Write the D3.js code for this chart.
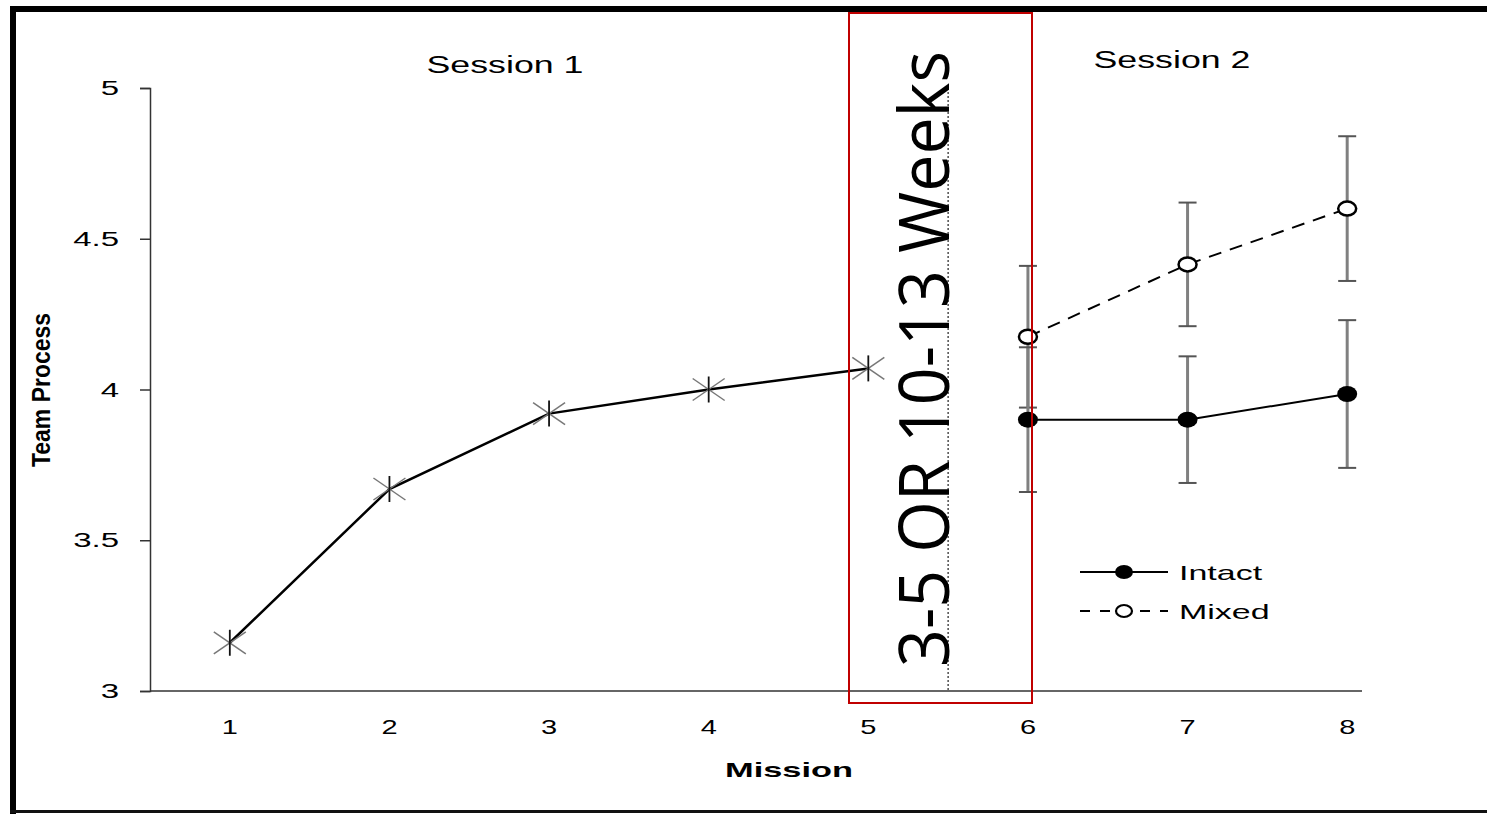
<!DOCTYPE html>
<html>
<head>
<meta charset="utf-8">
<script src="https://cdn.jsdelivr.net/npm/d3@7"></script>
<style>
  body { margin: 0; background: #fff; }
  svg { display: block; }
  text { font-family: "Liberation Sans", Arial, sans-serif; fill: #000; }
  text.gap { font-family: "Open Sans", "Noto Sans", sans-serif; }
</style>
</head>
<body>
<svg width="1487" height="814"></svg>
<script>
// session 1 (before the break)
var session1Missions = [1, 2, 3, 4, 5];
var session1Values = [3.16, 3.67, 3.92, 4.0, 4.07];

// session 2, two team types
var session2Missions = [6, 7, 8];
var intactValues = [3.90, 3.90, 3.985];
var intactErr = [0.24, 0.21, 0.245];
var mixedValues = [4.175, 4.415, 4.60];
var mixedErr = [0.235, 0.205, 0.24];

var xTicks = [1, 2, 3, 4, 5, 6, 7, 8];
var yTicks = [3, 3.5, 4, 4.5, 5];
var gapLabel = "3-5 OR 10-13 Weeks";

const svg = d3.select('svg');

// frame
svg.append('rect').attr('x', 10).attr('y', 6).attr('width', 1490).attr('height', 6).attr('fill', '#000');
svg.append('rect').attr('x', 10).attr('y', 6).attr('width', 6).attr('height', 810).attr('fill', '#000');
svg.append('rect').attr('x', 10).attr('y', 810).attr('width', 1490).attr('height', 3).attr('fill', '#111');

const x = d3.scaleLinear().domain([0.5, 8.5]).range([150, 1427]);
const y = d3.scaleLinear().domain([3, 5]).range([691, 88]);

// stretched text helper (the original picture was stretched sideways)
function stext(g, tx, ty, str, size, sx, anchor, weight) {
  return g.append('text')
    .attr('transform', `translate(${tx},${ty}) scale(${sx},1)`)
    .attr('text-anchor', anchor)
    .attr('font-size', size)
    .attr('font-weight', weight || 'normal')
    .text(str);
}

// y axis
const yAxis = svg.append('g')
  .attr('transform', 'translate(150,0)')
  .call(d3.axisLeft(y).tickValues(yTicks).tickSize(10).tickFormat(''));
yAxis.select('.domain').attr('stroke', '#333').attr('stroke-width', 1.5);
yAxis.selectAll('.tick line').attr('stroke', '#333').attr('stroke-width', 1.5);
yTicks.forEach(function (t) {
  stext(svg, 119, y(t) + 7, d3.format('')(t), 20, 1.65, 'end');
});

// x axis: no tick marks, just the base line and labels
svg.append('line')
  .attr('x1', 150).attr('x2', 1362).attr('y1', y(3)).attr('y2', y(3))
  .attr('stroke', '#333').attr('stroke-width', 1.5);
xTicks.forEach(function (t) {
  stext(svg, x(t), 734, t, 20, 1.45, 'middle');
});

// axis titles
stext(svg, 789, 777, 'Mission', 20, 1.72, 'middle', 'bold');
svg.append('text')
  .attr('transform', 'translate(50,390) rotate(-90)')
  .attr('text-anchor', 'middle')
  .attr('font-size', 26)
  .attr('font-weight', 'bold')
  .attr('textLength', 154)
  .attr('lengthAdjust', 'spacingAndGlyphs')
  .text('Team Process');

// session titles
stext(svg, 505, 73, 'Session 1', 24, 1.49, 'middle');
stext(svg, 1172, 68, 'Session 2', 24, 1.49, 'middle');

// dotted break line
svg.append('line')
  .attr('x1', x(5.5)).attr('x2', x(5.5)).attr('y1', y(5)).attr('y2', y(3))
  .attr('stroke', '#333').attr('stroke-width', 1.3).attr('stroke-dasharray', '2,2');

// error bars
function errorBars(vals, errs, cls) {
  const g = svg.append('g').attr('class', cls);
  session2Missions.forEach(function (m, i) {
    const top = y(vals[i] + errs[i]), bot = y(vals[i] - errs[i]);
    g.append('line').attr('x1', x(m)).attr('x2', x(m)).attr('y1', top).attr('y2', bot)
      .attr('stroke', '#808080').attr('stroke-width', 3);
    [top, bot].forEach(function (cy) {
      g.append('line').attr('x1', x(m) - 9).attr('x2', x(m) + 9).attr('y1', cy).attr('y2', cy)
        .attr('stroke', '#555').attr('stroke-width', 2);
    });
  });
}
errorBars(mixedValues, mixedErr, 'err-mixed');
errorBars(intactValues, intactErr, 'err-intact');

const line = d3.line().x(d => x(d[0])).y(d => y(d[1]));

// session 1 line + asterisks
svg.append('path')
  .datum(d3.zip(session1Missions, session1Values))
  .attr('d', line).attr('fill', 'none').attr('stroke', '#000').attr('stroke-width', 2.5);
session1Missions.forEach(function (m, i) {
  const g = svg.append('g').attr('transform', `translate(${x(m)},${y(session1Values[i])})`);
  g.append('line').attr('x1', -16).attr('y1', -11).attr('x2', 16).attr('y2', 11).attr('stroke', '#777').attr('stroke-width', 1.5);
  g.append('line').attr('x1', -16).attr('y1', 11).attr('x2', 16).attr('y2', -11).attr('stroke', '#777').attr('stroke-width', 1.5);
  g.append('line').attr('x1', 0).attr('y1', -13).attr('x2', 0).attr('y2', 13).attr('stroke', '#111').attr('stroke-width', 1.8);
});

// session 2 lines
svg.append('path')
  .datum(d3.zip(session2Missions, intactValues))
  .attr('d', line).attr('fill', 'none').attr('stroke', '#000').attr('stroke-width', 2);
svg.append('path')
  .datum(d3.zip(session2Missions, mixedValues))
  .attr('d', line).attr('fill', 'none').attr('stroke', '#000').attr('stroke-width', 2)
  .attr('stroke-dasharray', '13,9');

svg.selectAll('.pt-intact')
  .data(d3.zip(session2Missions, intactValues))
  .enter().append('ellipse')
  .attr('cx', d => x(d[0])).attr('cy', d => y(d[1]))
  .attr('rx', 10).attr('ry', 8).attr('fill', '#000');
svg.selectAll('.pt-mixed')
  .data(d3.zip(session2Missions, mixedValues))
  .enter().append('ellipse')
  .attr('cx', d => x(d[0])).attr('cy', d => y(d[1]))
  .attr('rx', 9).attr('ry', 7).attr('fill', '#fff').attr('stroke', '#000').attr('stroke-width', 2.5);

// legend
const leg = svg.append('g').attr('transform', 'translate(1080,572)');
leg.append('line').attr('x1', 0).attr('x2', 88).attr('y1', 0).attr('y2', 0).attr('stroke', '#000').attr('stroke-width', 2);
leg.append('ellipse').attr('cx', 44).attr('cy', 0).attr('rx', 9).attr('ry', 7).attr('fill', '#000');
stext(leg, 99, 8, 'Intact', 20, 1.7, 'start');
leg.append('line').attr('x1', 0).attr('x2', 88).attr('y1', 39).attr('y2', 39).attr('stroke', '#000').attr('stroke-width', 2)
  .attr('stroke-dasharray', '10,10');
leg.append('ellipse').attr('cx', 44).attr('cy', 39).attr('rx', 8).attr('ry', 6).attr('fill', '#fff').attr('stroke', '#000').attr('stroke-width', 2.2);
stext(leg, 99, 47, 'Mixed', 20, 1.7, 'start');

// break annotation box
svg.append('rect')
  .attr('x', 849).attr('y', 13).attr('width', 183).attr('height', 690)
  .attr('fill', 'none').attr('stroke', '#c00000').attr('stroke-width', 2);
svg.append('text')
  .attr('class', 'gap')
  .attr('transform', 'translate(949,359) rotate(-90)')
  .attr('text-anchor', 'middle')
  .attr('font-size', 70)
  .attr('textLength', 616)
  .attr('lengthAdjust', 'spacingAndGlyphs')
  .text(gapLabel);
</script>
</body>
</html>
